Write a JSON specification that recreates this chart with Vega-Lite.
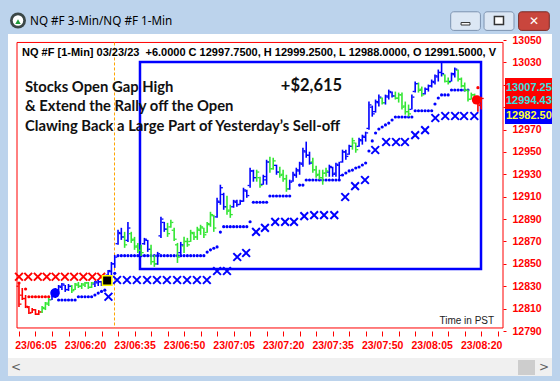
{
"$schema": "https://vega.github.io/schema/vega-lite/v6.json",
"width": 486, "height": 291,
"autosize": {"type": "none"},
"padding": {"left": 17, "top": 40, "right": 57, "bottom": 50},
"background": "#ffffff",
"data": {"values": [{"one": 1}]},
"config": {"view": {"stroke": null}, "axis": {"grid": false, "domain": false, "titleOpacity": 0, "labelOverlap": false, "labelBound": false}},
"datasets": {
"bars": [
{"m":0,"o":12830,"h":12833.8,"l":12811.4,"c":12814,"k":"dn"},
{"m":1,"o":12822,"h":12828.4,"l":12817.7,"c":12819,"k":"dn"},
{"m":2,"o":12819,"h":12822.2,"l":12810.5,"c":12812,"k":"dn"},
{"m":3,"o":12811,"h":12812.3,"l":12805.2,"c":12806,"k":"dn"},
{"m":4,"o":12806.5,"h":12810.5,"l":12806.0,"c":12809,"k":"dn"},
{"m":5,"o":12809,"h":12809.6,"l":12804.3,"c":12805,"k":"dn"},
{"m":6,"o":12805,"h":12808.7,"l":12804.3,"c":12807,"k":"dn"},
{"m":7,"o":12807,"h":12812.3,"l":12806.0,"c":12811,"k":"gr"},
{"m":8,"o":12810,"h":12815.9,"l":12808.7,"c":12815,"k":"gr"},
{"m":9,"o":12814,"h":12819.5,"l":12812.3,"c":12818,"k":"gr"},
{"m":10,"o":12818,"h":12826.7,"l":12817.7,"c":12825,"k":"up"},
{"m":11,"o":12824,"h":12828.4,"l":12819.5,"c":12827,"k":"up"},
{"m":12,"o":12826,"h":12831.1,"l":12823.1,"c":12830,"k":"up"},
{"m":13,"o":12829,"h":12832.9,"l":12826.7,"c":12832,"k":"up"},
{"m":14,"o":12831,"h":12831.1,"l":12824.9,"c":12827,"k":"up"},
{"m":15,"o":12827,"h":12832.0,"l":12825.8,"c":12830,"k":"up"},
{"m":16,"o":12830,"h":12831.1,"l":12824.0,"c":12826,"k":"gr"},
{"m":17,"o":12827,"h":12832.9,"l":12826.7,"c":12832,"k":"gr"},
{"m":18,"o":12831,"h":12833.8,"l":12828.4,"c":12830,"k":"gr"},
{"m":19,"o":12830,"h":12832.9,"l":12827.6,"c":12832,"k":"gr"},
{"m":20,"o":12831,"h":12833.8,"l":12829.3,"c":12833,"k":"gr"},
{"m":21,"o":12833,"h":12833.8,"l":12827.6,"c":12829,"k":"gr"},
{"m":22,"o":12829,"h":12833.8,"l":12828.4,"c":12833,"k":"gr"},
{"m":23,"o":12832,"h":12834.7,"l":12829.3,"c":12834,"k":"up"},
{"m":24,"o":12833,"h":12835.6,"l":12830.2,"c":12834,"k":"up"},
{"m":25,"o":12834,"h":12834.7,"l":12830.2,"c":12831,"k":"up"},
{"m":26,"o":12832,"h":12837.4,"l":12831.0,"c":12837,"k":"up"},
{"m":27,"o":12840,"h":12844.6,"l":12839.2,"c":12844,"k":"up"},
{"m":28,"o":12843,"h":12851.7,"l":12839.2,"c":12850,"k":"up"},
{"m":29,"o":12850,"h":12858.0,"l":12846.4,"c":12856,"k":"up"},
{"m":30,"o":12868,"h":12880.4,"l":12867.0,"c":12878,"k":"up"},
{"m":31,"o":12877,"h":12882.2,"l":12871.4,"c":12874,"k":"up"},
{"m":32,"o":12874,"h":12878.6,"l":12864.3,"c":12867,"k":"gr"},
{"m":33,"o":12871,"h":12887.5,"l":12869.6,"c":12882,"k":"up"},
{"m":34,"o":12877,"h":12878.6,"l":12868.7,"c":12871,"k":"gr"},
{"m":35,"o":12872,"h":12874.1,"l":12862.5,"c":12865,"k":"gr"},
{"m":36,"o":12866,"h":12868.7,"l":12859.8,"c":12862,"k":"gr"},
{"m":37,"o":12862,"h":12867.0,"l":12857.1,"c":12860,"k":"gr"},
{"m":38,"o":12868,"h":12873.2,"l":12867.0,"c":12872,"k":"up"},
{"m":39,"o":12871,"h":12871.4,"l":12860.7,"c":12863,"k":"up"},
{"m":40,"o":12863,"h":12867.0,"l":12849.1,"c":12852,"k":"gr"},
{"m":41,"o":12852,"h":12858.0,"l":12847.3,"c":12850,"k":"gr"},
{"m":42,"o":12850,"h":12860.7,"l":12849.1,"c":12859,"k":"up"},
{"m":43,"o":12875,"h":12892.0,"l":12873.2,"c":12890,"k":"up"},
{"m":44,"o":12887,"h":12887.5,"l":12878.6,"c":12881,"k":"up"},
{"m":45,"o":12881,"h":12886.6,"l":12874.1,"c":12877,"k":"gr"},
{"m":46,"o":12883,"h":12889.3,"l":12882.2,"c":12887,"k":"gr"},
{"m":47,"o":12880,"h":12882.2,"l":12870.5,"c":12872,"k":"gr"},
{"m":48,"o":12867,"h":12868.7,"l":12850.8,"c":12856,"k":"gr"},
{"m":49,"o":12860,"h":12869.6,"l":12858.0,"c":12867,"k":"up"},
{"m":50,"o":12866,"h":12874.1,"l":12859.8,"c":12870,"k":"gr"},
{"m":51,"o":12870,"h":12873.2,"l":12865.2,"c":12867,"k":"gr"},
{"m":52,"o":12870,"h":12880.4,"l":12869.6,"c":12878,"k":"gr"},
{"m":53,"o":12877,"h":12878.6,"l":12871.4,"c":12874,"k":"gr"},
{"m":54,"o":12874,"h":12883.1,"l":12871.4,"c":12881,"k":"gr"},
{"m":55,"o":12880,"h":12884.9,"l":12875.9,"c":12883,"k":"gr"},
{"m":56,"o":12882,"h":12882.2,"l":12873.2,"c":12876,"k":"gr"},
{"m":57,"o":12878,"h":12887.5,"l":12877.7,"c":12886,"k":"gr"},
{"m":58,"o":12885,"h":12896.5,"l":12883.1,"c":12894,"k":"gr"},
{"m":59,"o":12893,"h":12893.8,"l":12878.6,"c":12882,"k":"gr"},
{"m":60,"o":12892,"h":12909.0,"l":12891.1,"c":12906,"k":"up"},
{"m":61,"o":12905,"h":12920.7,"l":12902.8,"c":12918,"k":"up"},
{"m":62,"o":12912,"h":12913.5,"l":12898.3,"c":12901,"k":"up"},
{"m":63,"o":12901,"h":12910.8,"l":12893.8,"c":12897,"k":"gr"},
{"m":64,"o":12898,"h":12902.8,"l":12891.1,"c":12894,"k":"gr"},
{"m":65,"o":12901,"h":12907.2,"l":12900.1,"c":12906,"k":"up"},
{"m":66,"o":12905,"h":12907.2,"l":12901.0,"c":12903,"k":"up"},
{"m":67,"o":12903,"h":12907.2,"l":12902.8,"c":12906,"k":"up"},
{"m":68,"o":12906,"h":12918.0,"l":12905.4,"c":12916,"k":"up"},
{"m":69,"o":12915,"h":12916.2,"l":12909.0,"c":12911,"k":"up"},
{"m":70,"o":12920,"h":12935.9,"l":12918.0,"c":12933,"k":"up"},
{"m":71,"o":12933,"h":12934.1,"l":12923.4,"c":12927,"k":"up"},
{"m":72,"o":12927,"h":12934.1,"l":12923.4,"c":12932,"k":"gr"},
{"m":73,"o":12927,"h":12927.8,"l":12918.0,"c":12920,"k":"gr"},
{"m":74,"o":12921,"h":12929.6,"l":12920.7,"c":12928,"k":"up"},
{"m":75,"o":12925,"h":12943.0,"l":12920.7,"c":12941,"k":"up"},
{"m":76,"o":12941,"h":12945.7,"l":12931.4,"c":12935,"k":"gr"},
{"m":77,"o":12935,"h":12944.8,"l":12934.1,"c":12942,"k":"gr"},
{"m":78,"o":12938,"h":12938.6,"l":12929.6,"c":12932,"k":"up"},
{"m":79,"o":12932,"h":12936.8,"l":12926.9,"c":12929,"k":"gr"},
{"m":80,"o":12930,"h":12934.1,"l":12923.4,"c":12926,"k":"gr"},
{"m":81,"o":12926,"h":12929.6,"l":12914.4,"c":12917,"k":"gr"},
{"m":82,"o":12917,"h":12925.2,"l":12916.2,"c":12923,"k":"up"},
{"m":83,"o":12924,"h":12932.3,"l":12923.4,"c":12930,"k":"up"},
{"m":84,"o":12929,"h":12935.9,"l":12926.9,"c":12934,"k":"up"},
{"m":85,"o":12933,"h":12941.2,"l":12929.6,"c":12940,"k":"up"},
{"m":86,"o":12939,"h":12953.8,"l":12936.8,"c":12951,"k":"up"},
{"m":87,"o":12950,"h":12959.2,"l":12944.8,"c":12947,"k":"up"},
{"m":88,"o":12947,"h":12950.2,"l":12938.6,"c":12940,"k":"up"},
{"m":89,"o":12941,"h":12944.8,"l":12931.4,"c":12934,"k":"gr"},
{"m":90,"o":12934,"h":12937.7,"l":12926.9,"c":12929,"k":"gr"},
{"m":91,"o":12930,"h":12934.1,"l":12925.2,"c":12927,"k":"gr"},
{"m":92,"o":12927,"h":12934.1,"l":12920.7,"c":12931,"k":"gr"},
{"m":93,"o":12931,"h":12935.9,"l":12927.8,"c":12933,"k":"gr"},
{"m":94,"o":12932,"h":12938.6,"l":12927.8,"c":12937,"k":"up"},
{"m":95,"o":12936,"h":12936.8,"l":12927.8,"c":12930,"k":"up"},
{"m":96,"o":12931,"h":12940.4,"l":12927.8,"c":12939,"k":"up"},
{"m":97,"o":12938,"h":12941.2,"l":12925.2,"c":12929,"k":"up"},
{"m":98,"o":12941,"h":12952.0,"l":12940.4,"c":12950,"k":"up"},
{"m":99,"o":12950,"h":12952.0,"l":12943.0,"c":12946,"k":"up"},
{"m":100,"o":12948,"h":12956.5,"l":12947.5,"c":12955,"k":"up"},
{"m":101,"o":12955,"h":12962.7,"l":12952.0,"c":12960,"k":"gr"},
{"m":102,"o":12958,"h":12958.3,"l":12949.3,"c":12952,"k":"gr"},
{"m":103,"o":12955,"h":12962.7,"l":12954.7,"c":12961,"k":"up"},
{"m":104,"o":12960,"h":12965.4,"l":12956.5,"c":12964,"k":"up"},
{"m":105,"o":12963,"h":12968.1,"l":12959.2,"c":12967,"k":"up"},
{"m":106,"o":12971,"h":12995.0,"l":12969.9,"c":12992,"k":"up"},
{"m":107,"o":12990,"h":12991.4,"l":12981.5,"c":12984,"k":"up"},
{"m":108,"o":12986,"h":12996.8,"l":12985.1,"c":12995,"k":"up"},
{"m":109,"o":12994,"h":13001.2,"l":12990.5,"c":12999,"k":"up"},
{"m":110,"o":12998,"h":12998.6,"l":12992.3,"c":12994,"k":"gr"},
{"m":111,"o":12994,"h":13001.2,"l":12992.3,"c":13000,"k":"up"},
{"m":112,"o":12999,"h":13005.7,"l":12996.8,"c":13004,"k":"up"},
{"m":113,"o":13003,"h":13003.9,"l":12998.6,"c":13000,"k":"up"},
{"m":114,"o":13000,"h":13003.9,"l":12996.8,"c":12998,"k":"gr"},
{"m":115,"o":12998,"h":13003.0,"l":12994.1,"c":13001,"k":"gr"},
{"m":116,"o":13001,"h":13003.0,"l":12987.8,"c":12990,"k":"gr"},
{"m":117,"o":12991,"h":12995.0,"l":12983.3,"c":12986,"k":"gr"},
{"m":118,"o":12986,"h":12992.3,"l":12981.5,"c":12984,"k":"gr"},
{"m":119,"o":12988,"h":13001.2,"l":12987.8,"c":12999,"k":"up"},
{"m":120,"o":13004,"h":13012.9,"l":13003.0,"c":13011,"k":"up"},
{"m":121,"o":13011,"h":13012.0,"l":13003.0,"c":13005,"k":"gr"},
{"m":122,"o":13006,"h":13008.4,"l":12999.4,"c":13001,"k":"gr"},
{"m":123,"o":13002,"h":13007.5,"l":13001.2,"c":13006,"k":"up"},
{"m":124,"o":13006,"h":13010.2,"l":13003.9,"c":13009,"k":"up"},
{"m":125,"o":13009,"h":13014.7,"l":13007.5,"c":13013,"k":"up"},
{"m":126,"o":13012,"h":13019.1,"l":13010.2,"c":13018,"k":"up"},
{"m":127,"o":13017,"h":13023.6,"l":13012.9,"c":13021,"k":"up"},
{"m":128,"o":13021,"h":13030.8,"l":13017.4,"c":13020,"k":"up"},
{"m":129,"o":13019,"h":13019.1,"l":13012.0,"c":13013,"k":"gr"},
{"m":130,"o":13013,"h":13016.5,"l":13010.2,"c":13012,"k":"gr"},
{"m":131,"o":13013,"h":13020.9,"l":13012.9,"c":13020,"k":"up"},
{"m":132,"o":13019,"h":13025.4,"l":13016.5,"c":13024,"k":"up"},
{"m":133,"o":13023,"h":13023.6,"l":13012.9,"c":13015,"k":"gr"},
{"m":134,"o":13015,"h":13016.5,"l":13007.5,"c":13009,"k":"gr"},
{"m":135,"o":13009,"h":13012.0,"l":13003.9,"c":13005,"k":"gr"},
{"m":136,"o":13005,"h":13005.7,"l":12995.0,"c":12997,"k":"gr"},
{"m":137,"o":12997,"h":13003.0,"l":12996.8,"c":13001,"k":"gr"},
{"m":138,"o":13001,"h":13002.1,"l":12997.7,"c":12999,"k":"gr"},
{"m":139,"o":12999,"h":13000.3,"l":12986.0,"c":12992,"k":"dn"},
{"m":140,"o":12991.5,"h":12999.25,"l":12988.0,"c":12997.75,"k":"dn"}
],
"dots": [
{"m":0,"p":12832.9,"k":"dn"},{"m":2,"p":12827.5,"k":"dn"},{"m":3,"p":12820.6,"k":"dn"},{"m":4,"p":12820.6,"k":"dn"},{"m":5,"p":12820.6,"k":"dn"},{"m":6,"p":12820.6,"k":"dn"},{"m":7,"p":12820.6,"k":"dn"},{"m":8,"p":12820.6,"k":"dn"},{"m":9,"p":12820.6,"k":"dn"},
{"m":12,"p":12817.7,"k":"up"},{"m":13,"p":12817.7,"k":"up"},{"m":14,"p":12817.7,"k":"up"},{"m":15,"p":12817.7,"k":"up"},{"m":16,"p":12817.7,"k":"up"},{"m":17,"p":12817.7,"k":"up"},
{"m":18,"p":12820.6,"k":"up"},{"m":19,"p":12820.6,"k":"up"},{"m":20,"p":12820.6,"k":"up"},{"m":21,"p":12820.6,"k":"up"},{"m":22,"p":12820.6,"k":"up"},
{"m":23,"p":12822.2,"k":"up"},{"m":24,"p":12823.9,"k":"up"},{"m":25,"p":12825.4,"k":"up"},{"m":26,"p":12826.5,"k":"up"},{"m":29,"p":12841.5,"k":"up"},
{"m":30,"p":12857.3,"k":"up"},{"m":31,"p":12857.3,"k":"up"},{"m":32,"p":12857.3,"k":"up"},{"m":33,"p":12857.3,"k":"up"},{"m":34,"p":12857.3,"k":"up"},{"m":35,"p":12857.3,"k":"up"},{"m":36,"p":12857.3,"k":"up"},{"m":37,"p":12857.3,"k":"up"},{"m":38,"p":12857.3,"k":"up"},{"m":39,"p":12857.3,"k":"up"},{"m":40,"p":12857.3,"k":"up"},{"m":41,"p":12857.3,"k":"up"},{"m":42,"p":12857.3,"k":"up"},{"m":43,"p":12857.3,"k":"up"},{"m":44,"p":12857.3,"k":"up"},{"m":45,"p":12857.3,"k":"up"},{"m":46,"p":12857.3,"k":"up"},{"m":47,"p":12857.3,"k":"up"},{"m":48,"p":12857.3,"k":"up"},{"m":49,"p":12857.3,"k":"up"},{"m":50,"p":12857.3,"k":"up"},{"m":51,"p":12857.3,"k":"up"},{"m":52,"p":12857.3,"k":"up"},{"m":53,"p":12857.3,"k":"up"},{"m":54,"p":12857.3,"k":"up"},{"m":55,"p":12857.3,"k":"up"},{"m":56,"p":12857.3,"k":"up"},
{"m":57,"p":12860.5,"k":"up"},{"m":58,"p":12862.5,"k":"up"},{"m":59,"p":12863.9,"k":"up"},{"m":60,"p":12865.1,"k":"up"},{"m":61,"p":12878.4,"k":"up"},
{"m":62,"p":12883.2,"k":"up"},{"m":63,"p":12883.2,"k":"up"},{"m":64,"p":12883.2,"k":"up"},{"m":65,"p":12883.2,"k":"up"},{"m":66,"p":12883.2,"k":"up"},{"m":67,"p":12883.2,"k":"up"},{"m":68,"p":12883.2,"k":"up"},{"m":69,"p":12883.2,"k":"up"},
{"m":70,"p":12887.6,"k":"up"},
{"m":71,"p":12905.0,"k":"up"},{"m":72,"p":12905.0,"k":"up"},{"m":73,"p":12905.0,"k":"up"},{"m":74,"p":12905.0,"k":"up"},{"m":75,"p":12905.0,"k":"up"},
{"m":76,"p":12910.6,"k":"up"},{"m":77,"p":12910.6,"k":"up"},{"m":78,"p":12910.6,"k":"up"},{"m":79,"p":12910.6,"k":"up"},{"m":80,"p":12910.6,"k":"up"},{"m":81,"p":12910.6,"k":"up"},{"m":82,"p":12910.6,"k":"up"},
{"m":85,"p":12920.4,"k":"up"},{"m":86,"p":12920.4,"k":"up"},
{"m":87,"p":12924.9,"k":"up"},{"m":88,"p":12924.9,"k":"up"},{"m":89,"p":12924.9,"k":"up"},{"m":90,"p":12924.9,"k":"up"},{"m":91,"p":12924.9,"k":"up"},{"m":92,"p":12924.9,"k":"up"},{"m":93,"p":12924.9,"k":"up"},{"m":94,"p":12924.9,"k":"up"},{"m":95,"p":12924.9,"k":"up"},{"m":96,"p":12924.9,"k":"up"},{"m":97,"p":12924.9,"k":"up"},
{"m":98,"p":12929.4,"k":"up"},{"m":99,"p":12931.2,"k":"up"},{"m":100,"p":12933.0,"k":"up"},{"m":101,"p":12933.8,"k":"up"},{"m":102,"p":12935.6,"k":"up"},{"m":103,"p":12936.5,"k":"up"},{"m":104,"p":12938.3,"k":"up"},{"m":105,"p":12940.1,"k":"up"},
{"m":106,"p":12950.8,"k":"up"},{"m":107,"p":12959.8,"k":"up"},{"m":108,"p":12966.9,"k":"up"},{"m":109,"p":12970.5,"k":"up"},{"m":110,"p":12972.3,"k":"up"},{"m":111,"p":12974.1,"k":"up"},{"m":112,"p":12975.8,"k":"up"},{"m":113,"p":12978.5,"k":"up"},
{"m":114,"p":12981.2,"k":"up"},{"m":115,"p":12981.2,"k":"up"},{"m":116,"p":12981.2,"k":"up"},{"m":117,"p":12981.2,"k":"up"},{"m":118,"p":12981.2,"k":"up"},{"m":119,"p":12981.2,"k":"up"},
{"m":120,"p":12986.8,"k":"up"},{"m":121,"p":12986.8,"k":"up"},{"m":122,"p":12986.8,"k":"up"},{"m":123,"p":12986.8,"k":"up"},{"m":124,"p":12986.8,"k":"up"},{"m":125,"p":12986.8,"k":"up"},
{"m":126,"p":12992.8,"k":"up"},{"m":127,"p":12998.2,"k":"up"},
{"m":128,"p":13000.9,"k":"up"},{"m":129,"p":13000.9,"k":"up"},{"m":130,"p":13000.9,"k":"up"},
{"m":131,"p":13005.3,"k":"up"},{"m":132,"p":13005.3,"k":"up"},{"m":133,"p":13005.3,"k":"up"},{"m":134,"p":13005.3,"k":"up"},{"m":135,"p":13005.3,"k":"up"},{"m":136,"p":13005.3,"k":"up"},
{"m":139,"p":13007.4,"k":"dn"}
],
"xs": [
{"m":0.0,"p":12838.5,"k":"dn"},{"m":2.8,"p":12838.5,"k":"dn"},{"m":5.7,"p":12838.5,"k":"dn"},{"m":8.4,"p":12838.5,"k":"dn"},{"m":11.1,"p":12838.5,"k":"dn"},{"m":13.9,"p":12838.5,"k":"dn"},{"m":16.7,"p":12838.5,"k":"dn"},{"m":19.5,"p":12838.5,"k":"dn"},{"m":22.2,"p":12838.5,"k":"dn"},{"m":24.9,"p":12838.5,"k":"dn"},
{"m":27.1,"p":12820.6,"k":"up"},
{"m":29.7,"p":12835.6,"k":"up"},{"m":32.7,"p":12835.6,"k":"up"},{"m":35.7,"p":12835.6,"k":"up"},{"m":38.8,"p":12835.6,"k":"up"},{"m":41.8,"p":12835.6,"k":"up"},{"m":44.8,"p":12835.6,"k":"up"},{"m":47.9,"p":12835.6,"k":"up"},{"m":50.9,"p":12835.6,"k":"up"},{"m":53.9,"p":12835.6,"k":"up"},{"m":56.9,"p":12835.6,"k":"up"},
{"m":60.0,"p":12843.6,"k":"up"},{"m":63.0,"p":12843.6,"k":"up"},{"m":66.1,"p":12856.1,"k":"up"},{"m":68.8,"p":12859.7,"k":"up"},{"m":71.8,"p":12878.5,"k":"up"},{"m":74.5,"p":12882.1,"k":"up"},
{"m":77.6,"p":12887.5,"k":"up"},{"m":80.6,"p":12887.5,"k":"up"},{"m":83.3,"p":12887.5,"k":"up"},{"m":86.4,"p":12892.7,"k":"up"},{"m":89.4,"p":12893.6,"k":"up"},{"m":92.4,"p":12893.6,"k":"up"},{"m":95.5,"p":12893.6,"k":"up"},
{"m":98.8,"p":12909.7,"k":"up"},{"m":101.8,"p":12919.5,"k":"up"},{"m":104.8,"p":12924.9,"k":"up"},{"m":107.9,"p":12951.7,"k":"up"},
{"m":111.2,"p":12958.9,"k":"up"},{"m":114.2,"p":12958.9,"k":"up"},{"m":116.9,"p":12958.9,"k":"up"},{"m":120.0,"p":12965.0,"k":"up"},{"m":123.0,"p":12969.5,"k":"up"},{"m":126.1,"p":12980.3,"k":"up"},
{"m":129.1,"p":12982.1,"k":"up"},{"m":132.1,"p":12982.1,"k":"up"},{"m":134.8,"p":12982.1,"k":"up"},{"m":137.9,"p":12982.1,"k":"up"}
],
"signals": [
{"m":10.9,"p":12823.9,"k":"up"},{"m":138.6,"p":12996.5,"k":"dn"}
]
},
"layer": [
{"data": {"name": "bars"},
 "mark": {"type": "rule", "strokeOpacity": 0},
 "encoding": {
  "x": {"field": "m", "type": "quantitative", "scale": {"domain": [-0.6, 146.6], "nice": false, "zero": false},
        "axis": {"values": [0,5,10,15,20,25,30,35,40,45,50,55,60,65,70,75,80,85,90,95,100,105,110,115,120,125,130,135,140,145], "tickCount": 1000,
                 "labelExpr": "datum.value % 15 == 5 ? '23/0' + (6 + floor(datum.value / 60)) + ':' + (datum.value % 60 < 10 ? '0' : '') + (datum.value % 60) : ''",
                 "orient": "bottom", "labelColor": "#ff0000", "labelFont": "Liberation Sans", "labelFontWeight": "bold", "labelFontSize": 10.5,
                 "tickColor": "#ff0000", "tickSize": 5, "labelPadding": 4, "labelOverlap": false, "labelBound": false, "labelFlush": false, "title": null}},
  "y": {"field": "l", "type": "quantitative", "scale": {"domain": [12790, 13050], "nice": false, "zero": false},
        "axis": {"orient": "right", "values": [12790,12810,12830,12850,12870,12890,12910,12930,12950,12970,12990,13010,13030,13050], "tickCount": 1000, "format": "d",
                 "labelColor": "#ff0000", "labelFont": "Liberation Sans", "labelFontWeight": "bold", "labelFontSize": 10.5,
                 "tickColor": "#ff0000", "tickSize": 3, "labelPadding": 6, "labelOverlap": false, "labelBound": false, "labelFlush": false, "title": null}},
  "y2": {"field": "h"}
 }},
{"mark": {"type": "rect", "fill": "#bcd3ec"},
 "encoding": {"x": {"datum": -5.8, "type": "quantitative"}, "x2": {"datum": 163.9}, "y": {"datum": 13086, "type": "quantitative"}, "y2": {"datum": 13055.36}}},
{"mark": {"type": "rect", "fill": "#bcd3ec"},
 "encoding": {"x": {"datum": -5.8, "type": "quantitative"}, "x2": {"datum": -3.33}, "y": {"datum": 13086, "type": "quantitative"}, "y2": {"datum": 12745}}},
{"mark": {"type": "rect", "fill": "#bcd3ec"},
 "encoding": {"x": {"datum": -5.8, "type": "quantitative"}, "x2": {"datum": 163.9}, "y": {"datum": 12749.8, "type": "quantitative"}, "y2": {"datum": 12745}}},
{"mark": {"type": "rect", "fill": "#f0f0f0"},
 "encoding": {"x": {"datum": -3.33, "type": "quantitative"}, "x2": {"datum": 161.44}, "y": {"datum": 12765.87, "type": "quantitative"}, "y2": {"datum": 12749.8}}},
{"mark": {"type": "rect", "fill": "#cdcdcd"},
 "encoding": {"x": {"datum": 151.15, "type": "quantitative"}, "x2": {"datum": 156.3}, "y": {"datum": 12764.08, "type": "quantitative"}, "y2": {"datum": 12750.7}}},
{"mark": {"type": "text", "text": "<", "font": "DejaVu Sans", "fontSize": 12, "color": "#606060", "baseline": "middle"},
 "encoding": {"x": {"datum": -0.9, "type": "quantitative"}, "y": {"datum": 12757.83, "type": "quantitative"}}},
{"mark": {"type": "text", "text": ">", "font": "DejaVu Sans", "fontSize": 12, "color": "#606060", "baseline": "middle"},
 "encoding": {"x": {"datum": 159.0, "type": "quantitative"}, "y": {"datum": 12757.83, "type": "quantitative"}}},
{"mark": {"type": "point", "shape": "circle", "filled": true, "color": "#3b4747", "size": 256, "opacity": 1},
 "encoding": {"x": {"datum": -0.3, "type": "quantitative"}, "y": {"datum": 13067.42, "type": "quantitative"}}},
{"mark": {"type": "point", "shape": "circle", "filled": true, "color": "#ffffff", "size": 110, "opacity": 1},
 "encoding": {"x": {"datum": -0.3, "type": "quantitative"}, "y": {"datum": 13067.42, "type": "quantitative"}}},
{"mark": {"type": "point", "shape": "triangle-up", "filled": true, "color": "#1f9a3a", "size": 30, "opacity": 1},
 "encoding": {"x": {"datum": -0.3, "type": "quantitative"}, "y": {"datum": 13066.5, "type": "quantitative"}}},
{"mark": {"type": "text", "text": "NQ #F 3-Min/NQ #F 1-Min", "align": "left", "baseline": "middle", "font": "Noto Sans", "fontSize": 11.7, "color": "#000000"},
 "encoding": {"x": {"datum": 3.34, "type": "quantitative"}, "y": {"datum": 13066.98, "type": "quantitative"}}},
{"mark": {"type": "rect", "fill": "#dce7f4", "stroke": "#7d93b0", "strokeWidth": 1, "cornerRadius": 3},
 "encoding": {"x": {"datum": 130.76, "type": "quantitative"}, "x2": {"datum": 139.76}, "y": {"datum": 13075.2, "type": "quantitative"}, "y2": {"datum": 13058.58}}},
{"mark": {"type": "rect", "fill": "#ffffff", "stroke": "#333333", "strokeWidth": 1},
 "encoding": {"x": {"datum": 133.9, "type": "quantitative"}, "x2": {"datum": 136.6}, "y": {"datum": 13065.6, "type": "quantitative"}, "y2": {"datum": 13063.4}}},
{"mark": {"type": "rect", "fill": "#dce7f4", "stroke": "#7d93b0", "strokeWidth": 1, "cornerRadius": 3},
 "encoding": {"x": {"datum": 140.85, "type": "quantitative"}, "x2": {"datum": 149.93}, "y": {"datum": 13075.2, "type": "quantitative"}, "y2": {"datum": 13058.58}}},
{"mark": {"type": "rect", "fill": "#ffffff", "stroke": "#333333", "strokeWidth": 1.5},
 "encoding": {"x": {"datum": 144.0, "type": "quantitative"}, "x2": {"datum": 146.75}, "y": {"datum": 13071.0, "type": "quantitative"}, "y2": {"datum": 13063.85}}},
{"mark": {"type": "rect", "fill": "#c9463d", "stroke": "#7a2a25", "strokeWidth": 1, "cornerRadius": 3},
 "encoding": {"x": {"datum": 151.33, "type": "quantitative"}, "x2": {"datum": 160.62}, "y": {"datum": 13075.2, "type": "quantitative"}, "y2": {"datum": 13058.58}}},
{"mark": {"type": "text", "text": "✕", "font": "DejaVu Sans", "fontWeight": "bold", "fontSize": 12, "color": "#ffffff", "baseline": "middle"},
 "encoding": {"x": {"datum": 156.0, "type": "quantitative"}, "y": {"datum": 13066.98, "type": "quantitative"}}},
{"mark": {"type": "rect", "fill": "transparent", "stroke": "#ff0000", "strokeWidth": 1},
 "encoding": {"x": {"datum": -0.6, "type": "quantitative"}, "x2": {"datum": 146.6}, "y": {"datum": 13047.8, "type": "quantitative"}, "y2": {"datum": 12792.7}}},
{"mark": {"type": "rect", "fill": "transparent", "stroke": "#0000ff", "strokeWidth": 2.5},
 "encoding": {"x": {"datum": 36.65, "type": "quantitative"}, "x2": {"datum": 139.94}, "y": {"datum": 13030.34, "type": "quantitative"}, "y2": {"datum": 12845.4}}},
{"mark": {"type": "rule", "color": "#ffa500", "strokeWidth": 1, "strokeDash": [3, 2]},
 "encoding": {"x": {"datum": 28.93, "type": "quantitative"}, "y": {"datum": 13047.8, "type": "quantitative"}, "y2": {"datum": 12792.7}}},
{"data": {"name": "xs"},
 "mark": {"type": "point", "shape": "M-1,-1L1,1M1,-1L-1,1", "filled": false, "strokeWidth": 2, "size": 60, "opacity": 1},
 "encoding": {"x": {"field": "m", "type": "quantitative"}, "y": {"field": "p", "type": "quantitative"}, "color": {"field": "k", "type": "nominal", "scale": {"domain": ["up", "gr", "dn"], "range": ["#0000ff", "#33e633", "#ff0000"]}, "legend": null}}},
{"data": {"name": "dots"},
 "mark": {"type": "circle", "size": 10, "opacity": 1},
 "encoding": {"x": {"field": "m", "type": "quantitative"}, "y": {"field": "p", "type": "quantitative"}, "color": {"field": "k", "type": "nominal", "legend": null}}},
{"data": {"name": "bars"},
 "mark": {"type": "rule", "strokeWidth": 1.6},
 "encoding": {"x": {"field": "m", "type": "quantitative"}, "y": {"field": "l", "type": "quantitative"}, "y2": {"field": "h"}, "color": {"field": "k", "type": "nominal", "legend": null}}},
{"data": {"name": "bars"},
 "mark": {"type": "tick", "orient": "horizontal", "size": 2, "thickness": 1.3, "xOffset": -1.5, "opacity": 1},
 "encoding": {"x": {"field": "m", "type": "quantitative"}, "y": {"field": "o", "type": "quantitative"}, "color": {"field": "k", "type": "nominal", "legend": null}}},
{"data": {"name": "bars"},
 "mark": {"type": "tick", "orient": "horizontal", "size": 2, "thickness": 1.3, "xOffset": 1.5, "opacity": 1},
 "encoding": {"x": {"field": "m", "type": "quantitative"}, "y": {"field": "c", "type": "quantitative"}, "color": {"field": "k", "type": "nominal", "legend": null}}},
{"data": {"name": "signals"},
 "mark": {"type": "circle", "size": 90, "opacity": 1},
 "encoding": {"x": {"field": "m", "type": "quantitative"}, "y": {"field": "p", "type": "quantitative"}, "color": {"field": "k", "type": "nominal", "legend": null}}},
{"mark": {"type": "point", "shape": "square", "filled": true, "color": "#000000", "size": 90, "opacity": 1, "stroke": "#ffff00", "strokeWidth": 1.5},
 "encoding": {"x": {"datum": 26.7, "type": "quantitative"}, "y": {"datum": 12835.1, "type": "quantitative"}}},
{"mark": {"type": "text", "text": "NQ #F [1-Min] 03/23/23\u00a0 +6.0000 C 12997.7500, H 12999.2500, L 12988.0000, O 12991.5000, V", "align": "left", "baseline": "middle", "font": "Liberation Sans", "fontWeight": "bold", "fontSize": 11, "color": "#000000", "limit": 479, "ellipsis": " "},
 "encoding": {"x": {"datum": 0.92, "type": "quantitative"}, "y": {"datum": 13038.4, "type": "quantitative"}}},
{"mark": {"type": "text", "text": "Stocks Open Gap High", "align": "left", "baseline": "middle", "font": "Lato", "fontWeight": "bold", "fontSize": 14.8, "color": "#111111"},
 "encoding": {"x": {"datum": 1.82, "type": "quantitative"}, "y": {"datum": 13007.1, "type": "quantitative"}}},
{"mark": {"type": "text", "text": "& Extend the Rally off the Open", "align": "left", "baseline": "middle", "font": "Lato", "fontWeight": "bold", "fontSize": 14.8, "color": "#111111"},
 "encoding": {"x": {"datum": 1.82, "type": "quantitative"}, "y": {"datum": 12989.7, "type": "quantitative"}}},
{"mark": {"type": "text", "text": "Clawing Back a Large Part of Yesterday’s Sell-off", "align": "left", "baseline": "middle", "font": "Lato", "fontWeight": "bold", "fontSize": 14.8, "color": "#111111"},
 "encoding": {"x": {"datum": 1.82, "type": "quantitative"}, "y": {"datum": 12972.3, "type": "quantitative"}}},
{"mark": {"type": "text", "text": "+$2,615", "align": "center", "baseline": "middle", "font": "Lato", "fontWeight": "bold", "fontSize": 16.5, "color": "#111111"},
 "encoding": {"x": {"datum": 88.6, "type": "quantitative"}, "y": {"datum": 13008.9, "type": "quantitative"}}},
{"mark": {"type": "text", "text": "Time in PST", "align": "right", "baseline": "middle", "font": "Liberation Sans", "fontSize": 10, "color": "#222222"},
 "encoding": {"x": {"datum": 143.9, "type": "quantitative"}, "y": {"datum": 12798.9, "type": "quantitative"}}},
{"mark": {"type": "rect", "fill": "#ff0000"},
 "encoding": {"x": {"datum": 147.2, "type": "quantitative"}, "x2": {"datum": 161.44}, "y": {"datum": 13016.05, "type": "quantitative"}, "y2": {"datum": 12988.35}}},
{"mark": {"type": "rect", "fill": "#0000ff"},
 "encoding": {"x": {"datum": 147.2, "type": "quantitative"}, "x2": {"datum": 161.44}, "y": {"datum": 12988.35, "type": "quantitative"}, "y2": {"datum": 12974.95}}},
{"mark": {"type": "text", "text": "13007.25", "align": "left", "baseline": "middle", "font": "Liberation Sans", "fontWeight": "bold", "fontSize": 11, "color": "#33e0e0"},
 "encoding": {"x": {"datum": 147.5, "type": "quantitative"}, "y": {"datum": 13007.11, "type": "quantitative"}}},
{"mark": {"type": "text", "text": "12994.43", "align": "left", "baseline": "middle", "font": "Liberation Sans", "fontWeight": "bold", "fontSize": 11, "color": "#33e0e0"},
 "encoding": {"x": {"datum": 147.5, "type": "quantitative"}, "y": {"datum": 12995.5, "type": "quantitative"}}},
{"mark": {"type": "text", "text": "12982.50", "align": "left", "baseline": "middle", "font": "Liberation Sans", "fontWeight": "bold", "fontSize": 11, "color": "#ffff33"},
 "encoding": {"x": {"datum": 147.5, "type": "quantitative"}, "y": {"datum": 12982.1, "type": "quantitative"}}},
{"mark": {"type": "rect", "fill": "#bcd3ec"},
 "encoding": {"x": {"datum": 161.44, "type": "quantitative"}, "x2": {"datum": 164}, "y": {"datum": 13086, "type": "quantitative"}, "y2": {"datum": 12745}}}
]
}
